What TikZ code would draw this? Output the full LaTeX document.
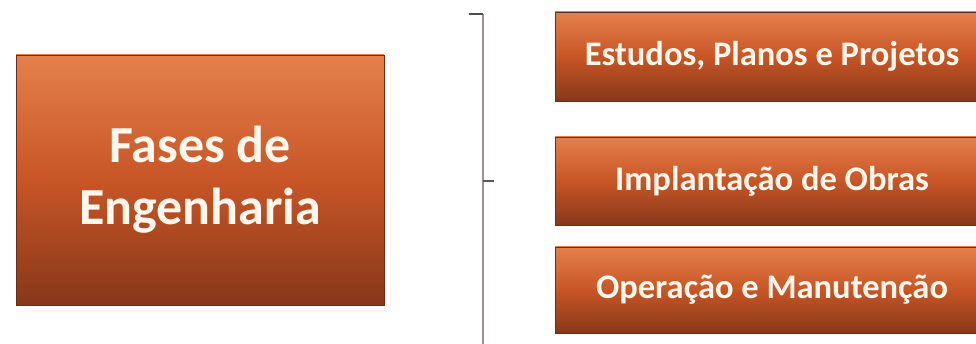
\documentclass[tikz,border=0pt]{standalone}
\usepackage{fontspec}
\setmainfont{Carlito}
\usetikzlibrary{positioning}

\definecolor{fasetop}{HTML}{E4804C}
\definecolor{fasemid}{HTML}{C85526}
\definecolor{fasebot}{HTML}{86381A}
\definecolor{fasetxt}{HTML}{FFF6EC}
\definecolor{chave}{HTML}{A08C96}

\tikzset{
  fasebox/.style={draw=fasebot!80!black, line width=0.6pt, top color=fasetop,
    bottom color=fasebot, middle color=fasemid, inner sep=0pt,
    text=fasetxt, font=\bfseries, align=center},
}

\begin{document}
\begin{tikzpicture}[x=1pt,y=-1pt]
 \useasboundingbox (0,0) rectangle (976,344);

 % bloco principal
 \node[fasebox, minimum width=368pt, minimum height=250pt,
   font=\bfseries\fontsize{52}{62}\selectfont] (fases) at (200,180)
   {Fases de\\Engenharia};

 % as tres fases
 \node[fasebox, minimum width=434pt, minimum height=89pt,
   font=\bfseries\fontsize{34.5}{40}\selectfont] (estudos) at (772,56.5)
   {Estudos, Planos e Projetos};
 \node[fasebox, minimum width=434pt, minimum height=88pt,
   font=\bfseries\fontsize{34.5}{40}\selectfont] (obras) at (772,181)
   {Implantação de Obras};
 \node[fasebox, minimum width=434pt, minimum height=86pt,
   font=\bfseries\fontsize{34.5}{40}\selectfont] (operacao) at (772,290)
   {Operação e Manutenção};

 % chave
 \coordinate (chtopo) at (469,14);
 \coordinate (chcanto) at (483,14);
 \coordinate (chbase) at (483,344);
 \coordinate (chmeio) at (483,181);
 \coordinate (chponta) at (494,181);
 \draw[chave, line width=2.4pt] (chcanto) -- (chbase);
 \draw[black!70, line width=1.6pt] (chtopo) -- (chcanto);
 \draw[black!65, line width=2pt] (chmeio) -- (chponta);
\end{tikzpicture}
\end{document}
